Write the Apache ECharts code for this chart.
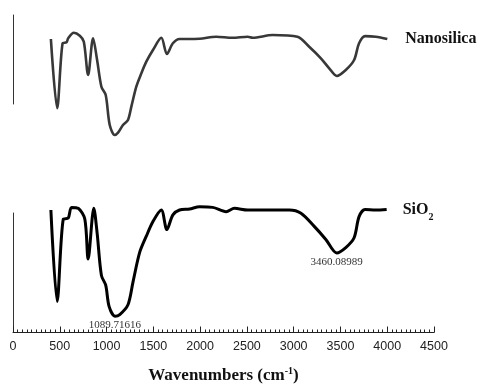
<!DOCTYPE html>
<html>
<head>
<meta charset="utf-8">
<script src="https://cdn.jsdelivr.net/npm/echarts@6/dist/echarts.min.js"></script>
<style>
  html, body { margin: 0; padding: 0; background: #fff; }
  #chart { width: 485px; height: 385px; }
</style>
</head>
<body>
<div id="chart"></div>
<script>
// FTIR spectra (transmittance, arbitrary units)
const xTicks = [0, 500, 1000, 1500, 2000, 2500, 3000, 3500, 4000, 4500];

const nanoWn = [405, 472, 530, 572, 590, 650, 714, 757, 803, 856, 899, 945, 991, 1034, 1087, 1123, 1176, 1229, 1265, 1318, 1372, 1425, 1496, 1585, 1645, 1709, 1780, 1851, 1994, 2172, 2345, 2509, 2562, 2775, 3041, 3166, 3291, 3380, 3461, 3557, 3646, 3699, 3763, 3877, 4001];
const nanoT = [103.3, 46.5, 99.8, 100.6, 103.9, 108.4, 106.0, 101.1, 73.8, 103.9, 86.1, 64.2, 57.4, 32.8, 24.6, 26.5, 32.8, 36.9, 47.8, 64.2, 75.2, 84.7, 94.3, 104.3, 91.0, 99.8, 103.3, 103.3, 103.5, 105.2, 104.3, 105.2, 104.3, 106.6, 105.2, 97.0, 87.5, 79.3, 73.0, 77.9, 86.1, 99.8, 105.7, 105.2, 103.3];

const sio2Wn = [405, 472, 537, 590, 626, 697, 768, 803, 864, 899, 945, 991, 1027, 1089.71616, 1141, 1229, 1283, 1354, 1425, 1496, 1585, 1645, 1709, 1780, 1887, 1994, 2135, 2278, 2367, 2509, 2598, 2846, 2953, 3078, 3220, 3344, 3460.08989, 3557, 3646, 3699, 3763, 3877, 3994];
const sio2T = [102.5, 26.0, 94.8, 95.7, 104.7, 103.9, 94.8, 61.5, 103.9, 83.4, 47.8, 39.6, 21.9, 13.7, 15.0, 23.2, 42.4, 67.0, 80.6, 92.9, 102.5, 86.1, 98.4, 102.5, 103.3, 105.2, 104.7, 101.1, 103.9, 102.5, 102.5, 102.5, 102.5, 99.8, 88.8, 77.9, 66.6, 71.1, 79.3, 97.0, 103.0, 102.5, 103.0];

const peaks = [1089.71616, 3460.08989];

const serif = 'Liberation Serif';
const sans = 'Liberation Sans';

let chart = echarts.init(document.getElementById('chart'));

function zip(xs, ys) {
  return xs.map((x, i) => [x, ys[i]]);
}

const peakMarks = peaks.map(p => {
  const i = sio2Wn.indexOf(p);
  return { coord: [sio2Wn[i], sio2T[i]], value: p.toFixed(5) };
});

chart.setOption({
  animation: false,
  grid: [
    { left: 13, right: 51, top: 15, height: 89 },
    { left: 13, right: 51, top: 213, height: 122 }
  ],
  xAxis: [
    {
      gridIndex: 0, type: 'value', min: 0, max: 4500, interval: 500,
      show: false
    },
    {
      gridIndex: 1, type: 'value', min: xTicks[0], max: xTicks[xTicks.length - 1], interval: 500,
      axisLine: { lineStyle: { color: '#222', width: 1 } },
      axisTick: { inside: true, length: 6, lineStyle: { color: '#222' } },
      minorTick: { show: true, splitNumber: 10, length: 3, lineStyle: { color: '#222' } },
      splitLine: { show: false },
      axisLabel: { color: '#222', fontFamily: sans, fontSize: 12.5, margin: 8, formatter: v => String(v) },
      name: '{t|Wavenumbers (cm}{s|-1}{t|)}',
      nameLocation: 'middle',
      nameGap: 34,
      nameTextStyle: {
        rich: {
          t: { fontFamily: serif, fontWeight: 'bold', fontSize: 17, color: '#111' },
          s: { fontFamily: serif, fontWeight: 'bold', fontSize: 10, color: '#111', verticalAlign: 'top', padding: [0, 0, 8, 0] }
        }
      }
    }
  ],
  yAxis: [
    {
      gridIndex: 0, type: 'value', min: 50, max: 123,
      axisLine: { show: true, lineStyle: { color: '#333' } },
      axisTick: { show: false }, axisLabel: { show: false }, splitLine: { show: false }
    },
    {
      gridIndex: 1, type: 'value', min: 0, max: 100,
      axisLine: { show: true, lineStyle: { color: '#333' } },
      axisTick: { show: false }, axisLabel: { show: false }, splitLine: { show: false }
    }
  ],
  series: [
    {
      name: 'Nanosilica',
      type: 'line',
      xAxisIndex: 0, yAxisIndex: 0,
      data: zip(nanoWn, nanoT),
      smooth: 0.3,
      clip: false,
      showSymbol: false,
      lineStyle: { color: '#383838', width: 2.6 },
      endLabel: {
        show: true, distance: 18,
        formatter: 'Nanosilica',
        fontFamily: serif, fontWeight: 'bold', fontSize: 16, color: '#111'
      }
    },
    {
      name: 'SiO2',
      type: 'line',
      xAxisIndex: 1, yAxisIndex: 1,
      data: zip(sio2Wn, sio2T),
      smooth: 0.3,
      clip: false,
      showSymbol: false,
      lineStyle: { color: '#000', width: 3 },
      endLabel: {
        show: true, distance: 16,
        formatter: '{a|SiO}{b|2}',
        rich: {
          a: { fontFamily: serif, fontWeight: 'bold', fontSize: 16, color: '#111' },
          b: { fontFamily: serif, fontWeight: 'bold', fontSize: 10, color: '#111', verticalAlign: 'bottom', padding: [16, 0, 0, 0] }
        }
      },
      markPoint: {
        symbol: 'circle',
        symbolSize: 1,
        itemStyle: { color: 'rgba(0,0,0,0)' },
        label: {
          show: true, position: 'bottom', distance: 3,
          formatter: p => p.value,
          fontFamily: serif, fontSize: 11, color: '#333'
        },
        data: peakMarks
      }
    }
  ]
});
</script>
</body>
</html>
